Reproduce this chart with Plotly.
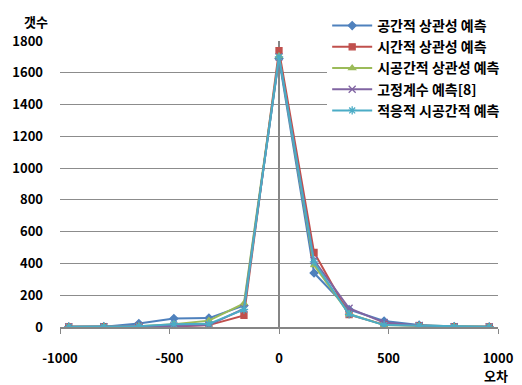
import plotly.graph_objects as go

x_vals = [-960, -800, -640, -480, -320, -160, 0, 160, 320, 480, 640, 800, 960]
x_tickvals = [-1000, -500, 0, 500, 1000]
x_ticktext = ["-1000", "-500", "0", "500", "1000"]
names = ["공간적 상관성 예측", "시간적 상관성 예측", "시공간적 상관성 예측", "고정계수 예측[8]", "적응적 시공간적 예측"]
spatial = [1, 2, 22, 53, 56, 135, 1690, 340, 110, 38, 12, 3, 1]
temporal = [1, 2, 3, 3, 12, 73, 1740, 470, 78, 15, 8, 2, 1]
spatiotemporal = [1, 2, 5, 18, 40, 148, 1705, 390, 82, 12, 8, 2, 1]
fixed = [1, 2, 4, 6, 12, 115, 1700, 420, 118, 28, 10, 2, 1]
adaptive = [1, 2, 5, 18, 20, 110, 1700, 410, 80, 12, 8, 2, 1]
series = [spatial, temporal, spatiotemporal, fixed, adaptive]
colors = ["#4F81BD", "#C0504D", "#9BBB59", "#8064A2", "#4BACC6"]
symbols = ["diamond", "square", "triangle-up", "x-thin-open", "asterisk-open"]
sizes = [6, 6, 6, 7, 7]

W, H = 522, 385
MT, MB = 0, 58
paper_h = H - MT - MB
plot_top_px = 32

font = "Noto Sans CJK KR"
fig = go.Figure()
for name, ys, c, s, sz in zip(names, series, colors, symbols, sizes):
    fig.add_trace(go.Scatter(
        x=x_vals, y=ys, name=name, mode="lines+markers",
        line=dict(color=c, width=2),
        marker=dict(symbol=s, size=sz, color=c, line=dict(color=c, width=1.3)),
    ))

fig.update_layout(
    width=W, height=H,
    margin=dict(l=60, r=24, t=MT, b=MB),
    paper_bgcolor="white", plot_bgcolor="white",
    font=dict(family=font, size=12, color="black"),
    showlegend=True,
    legend=dict(x=0.61, y=1.0, xanchor="left", yanchor="top",
                bgcolor="white", font=dict(family=font, size=14, color="black", weight="bold"),
                itemwidth=40, tracegroupgap=0),
    xaxis=dict(range=[-1000, 1000], tickvals=x_tickvals, ticktext=x_ticktext,
               showgrid=False, zeroline=True, zerolinecolor="#868686", zerolinewidth=1.5,
               showline=True, linecolor="#868686", linewidth=1.5,
               ticks="outside", ticklen=5, tickcolor="#868686", ticklabelstandoff=14,
               tickfont=dict(family=font, size=13, weight="bold"),
               fixedrange=True),
    yaxis=dict(range=[0, 1800], dtick=200, domain=[0, 1 - plot_top_px / paper_h],
               showgrid=True, gridcolor="#8C8C8C", gridwidth=1.2,
               zeroline=False, showline=False, ticks="", ticklabelstandoff=16,
               tickfont=dict(family=font, size=13, weight="bold"),
               fixedrange=True),
    annotations=[
        dict(text="갯수", xref="paper", yref="paper", x=-0.055, y=(paper_h - 12) / paper_h,
             xanchor="center", yanchor="middle",
             showarrow=False, font=dict(family=font, size=13, weight="bold")),
        dict(text="오차", xref="paper", yref="paper", x=0.995, y=(paper_h - 377) / paper_h,
             xanchor="center", yanchor="middle",
             showarrow=False, font=dict(family=font, size=13, weight="bold")),
    ],
)
fig.write_html("out.html")
